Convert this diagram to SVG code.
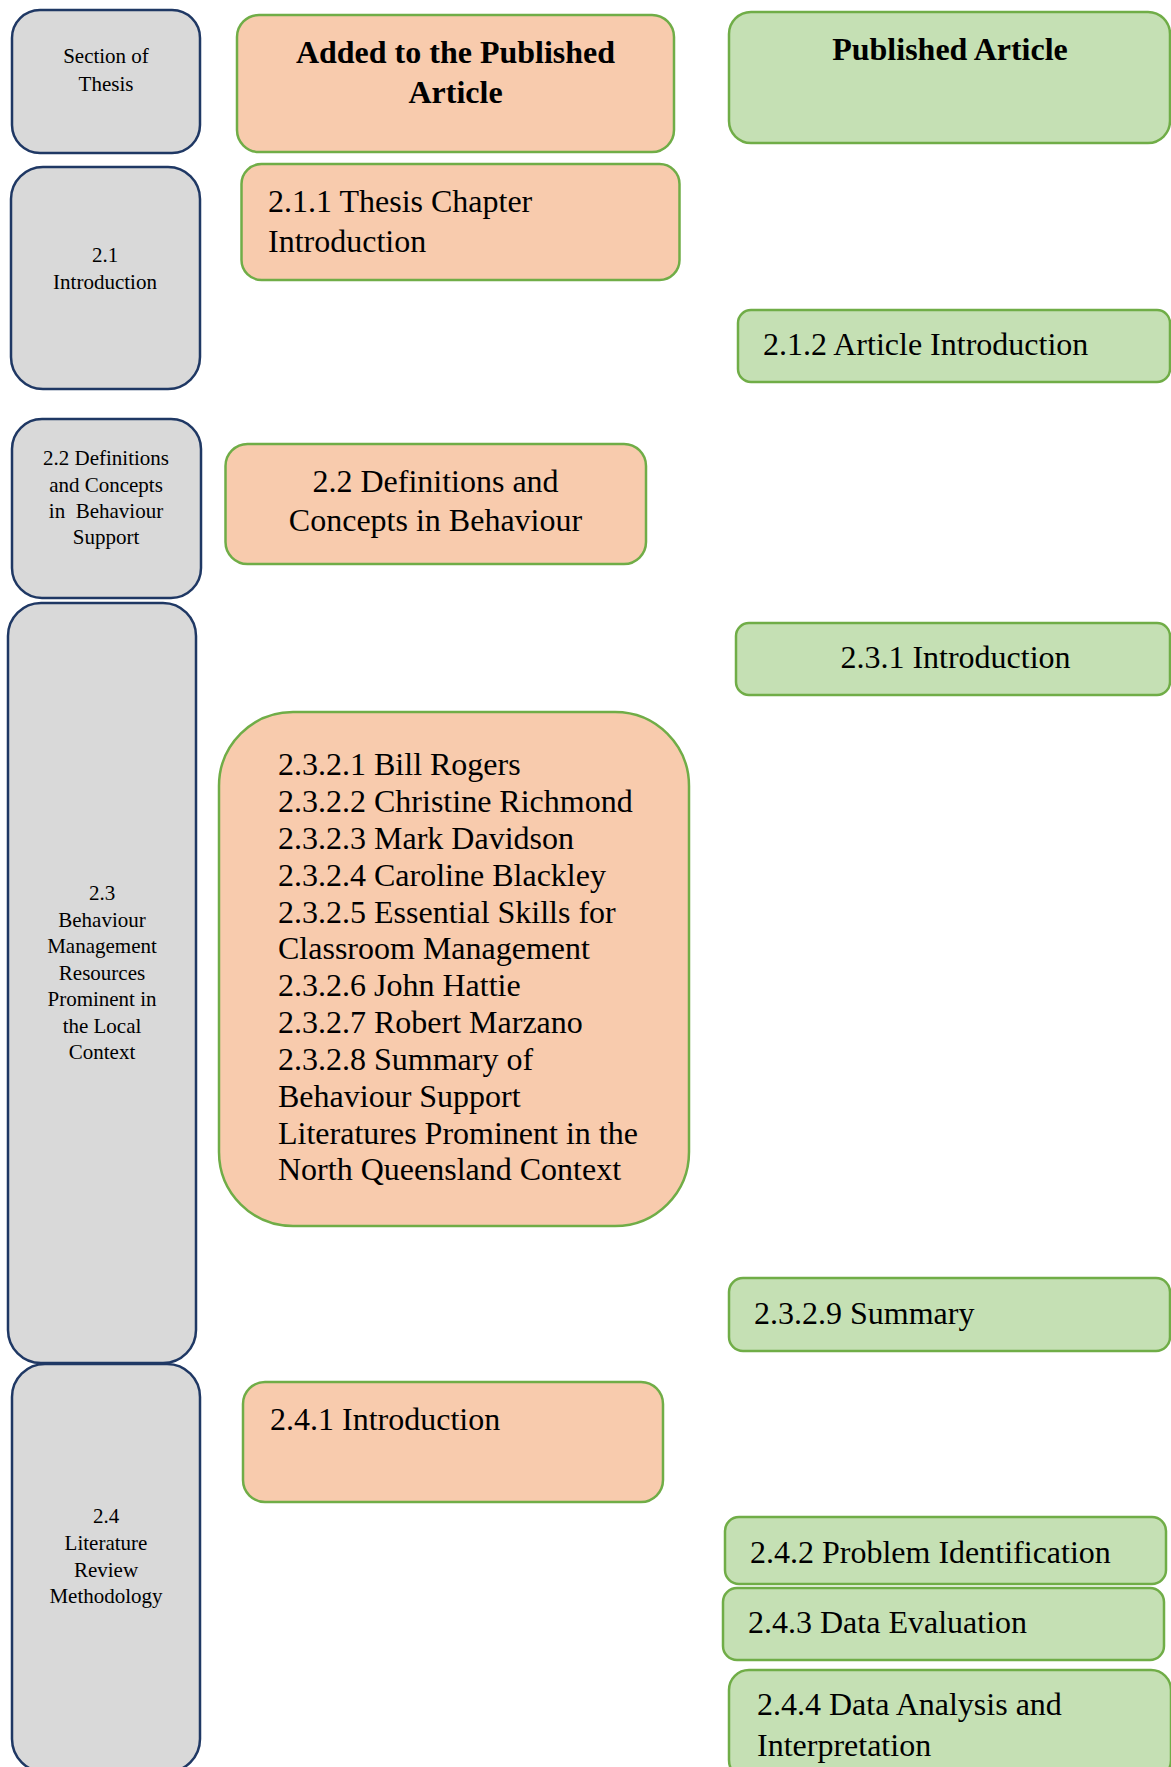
<svg xmlns="http://www.w3.org/2000/svg" width="1171" height="1767" viewBox="0 0 1171 1767">
<style>
.gray{fill:#D9D9D9;stroke:#1F3864;stroke-width:2.5}
.orange{fill:#F8CBAD;stroke:#70AD47;stroke-width:2.5}
.green{fill:#C5E0B4;stroke:#70AD47;stroke-width:2.5}
text{font-family:"Liberation Serif","Times New Roman",serif;fill:#000}
.s{font-size:21px;text-anchor:middle}
.l{font-size:32px}
.c{text-anchor:middle}
.b{font-weight:bold}
</style>
<rect width="1171" height="1767" fill="#FFFFFF"/>
<g id="connectors"></g>

<!-- Left column -->
<g id="sec-head">
<rect class="gray" x="12" y="10" width="188" height="143" rx="28"/>
<text class="s" x="106" y="63">Section of</text>
<text class="s" x="106" y="91">Thesis</text>
</g>
<g id="sec-2-1">
<rect class="gray" x="11" y="167" width="189" height="222" rx="32"/>
<text class="s" x="105" y="262">2.1</text>
<text class="s" x="105" y="289">Introduction</text>
</g>
<g id="sec-2-2">
<rect class="gray" x="12" y="419" width="189" height="179" rx="30"/>
<text class="s" x="106" y="465">2.2 Definitions</text>
<text class="s" x="106" y="492">and Concepts</text>
<text class="s" x="106" y="518" xml:space="preserve">in  Behaviour</text>
<text class="s" x="106" y="544">Support</text>
</g>
<g id="sec-2-3">
<rect class="gray" x="8" y="603" width="188" height="760" rx="33"/>
<text class="s" x="102" y="900">2.3</text>
<text class="s" x="102" y="926.5">Behaviour</text>
<text class="s" x="102" y="953">Management</text>
<text class="s" x="102" y="979.5">Resources</text>
<text class="s" x="102" y="1006">Prominent in</text>
<text class="s" x="102" y="1032.5">the Local</text>
<text class="s" x="102" y="1059">Context</text>
</g>
<g id="sec-2-4">
<rect class="gray" x="12" y="1364" width="188" height="408" rx="33"/>
<text class="s" x="106" y="1523">2.4</text>
<text class="s" x="106" y="1550">Literature</text>
<text class="s" x="106" y="1576.5">Review</text>
<text class="s" x="106" y="1603">Methodology</text>
</g>

<!-- Middle column -->
<g id="added-head">
<rect class="orange" x="237" y="15" width="437" height="137" rx="22"/>
<text class="l b c" x="455.5" y="63">Added to the Published</text>
<text class="l b c" x="455.5" y="103">Article</text>
</g>
<g id="added-2-1-1">
<rect class="orange" x="241.5" y="164" width="438" height="116" rx="20"/>
<text class="l" x="268" y="212">2.1.1 Thesis Chapter</text>
<text class="l" x="268" y="252">Introduction</text>
</g>
<g id="added-2-2">
<rect class="orange" x="225.5" y="444" width="420.5" height="120" rx="22"/>
<text class="l c" x="435.5" y="492">2.2 Definitions and</text>
<text class="l c" x="435.5" y="531">Concepts in Behaviour</text>
</g>
<g id="added-2-3-2">
<rect class="orange" x="219" y="712" width="470" height="514" rx="74"/>
<text class="l" x="278" y="775">2.3.2.1 Bill Rogers</text>
<text class="l" x="278" y="812">2.3.2.2 Christine Richmond</text>
<text class="l" x="278" y="849">2.3.2.3 Mark Davidson</text>
<text class="l" x="278" y="885.5">2.3.2.4 Caroline Blackley</text>
<text class="l" x="278" y="922.5">2.3.2.5 Essential Skills for</text>
<text class="l" x="278" y="959">Classroom Management</text>
<text class="l" x="278" y="996">2.3.2.6 John Hattie</text>
<text class="l" x="278" y="1033">2.3.2.7 Robert Marzano</text>
<text class="l" x="278" y="1070">2.3.2.8 Summary of</text>
<text class="l" x="278" y="1106.5">Behaviour Support</text>
<text class="l" x="278" y="1143.5">Literatures Prominent in the</text>
<text class="l" x="278" y="1180">North Queensland Context</text>
</g>
<g id="added-2-4-1">
<rect class="orange" x="243" y="1382" width="420" height="120" rx="22"/>
<text class="l" x="270" y="1430">2.4.1 Introduction</text>
</g>

<!-- Right column -->
<g id="pub-head">
<rect class="green" x="729" y="12" width="441" height="131" rx="22"/>
<text class="l b c" x="950" y="60">Published Article</text>
</g>
<g id="pub-2-1-2">
<rect class="green" x="738" y="310" width="432" height="72" rx="13"/>
<text class="l" x="763" y="355">2.1.2 Article Introduction</text>
</g>
<g id="pub-2-3-1">
<rect class="green" x="736" y="623" width="434" height="72" rx="13"/>
<text class="l c" x="955.5" y="668">2.3.1 Introduction</text>
</g>
<g id="pub-2-3-2-9">
<rect class="green" x="729" y="1278" width="441" height="73" rx="14"/>
<text class="l" x="754" y="1324">2.3.2.9 Summary</text>
</g>
<g id="pub-2-4-2">
<rect class="green" x="725" y="1517" width="441" height="67" rx="14"/>
<text class="l" x="750" y="1563">2.4.2 Problem Identification</text>
</g>
<g id="pub-2-4-3">
<rect class="green" x="723" y="1588" width="441" height="72" rx="14"/>
<text class="l" x="748" y="1633">2.4.3 Data Evaluation</text>
</g>
<g id="pub-2-4-4">
<rect class="green" x="729" y="1670" width="442" height="110" rx="20"/>
<text class="l" x="757" y="1715">2.4.4 Data Analysis and</text>
<text class="l" x="757" y="1756">Interpretation</text>
</g>
</svg>
